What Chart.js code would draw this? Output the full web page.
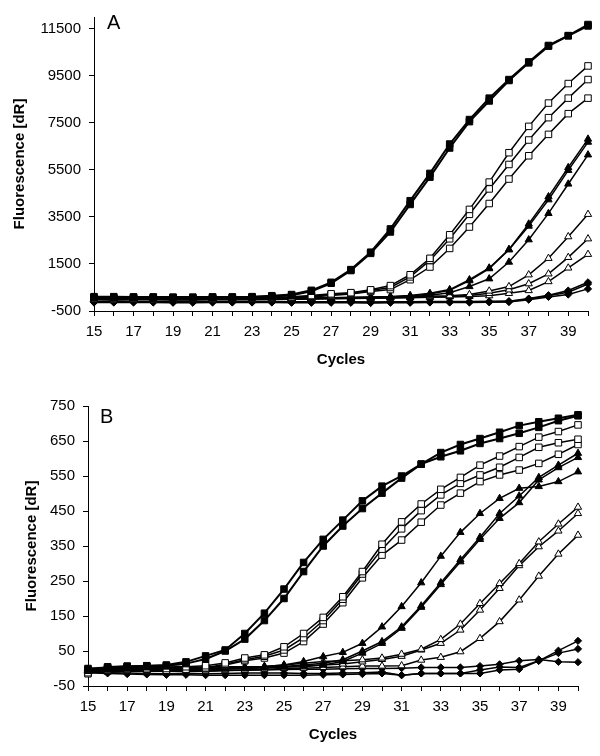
<!DOCTYPE html>
<html>
<head>
<meta charset="utf-8">
<script src="https://cdn.jsdelivr.net/npm/chart.js@4.4.1/dist/chart.umd.min.js"></script>
<style>
  body { margin: 0; background: #fff; }
  canvas { position: absolute; left: 0; }
  #chartA { top: 0; }
  #chartB { top: 378px; }
</style>
</head>
<body>
<canvas id="chartA" width="600" height="378"></canvas>
<canvas id="chartB" width="600" height="378"></canvas>
<script>
// cycles 15..40
const cycles = [15,16,17,18,19,20,21,22,23,24,25,26,27,28,29,30,31,32,33,34,35,36,37,38,39,40];
const xTickLabels = [15,17,19,21,23,25,27,29,31,33,35,37,39];
const yTicksA = [-500,1500,3500,5500,7500,9500,11500];
const yTicksB = [-50,50,150,250,350,450,550,650,750];

// panel A
const aSqF1 = [110,110,100,100,90,90,100,100,110,150,200,380,720,1260,2000,2990,4190,5350,6600,7640,8550,9340,10090,10790,11210,11680];
const aSqF2 = [80,80,80,70,70,70,80,80,90,120,170,340,680,1220,1950,2860,4030,5190,6430,7550,8430,9300,10050,10760,11200,11620];
const aSqO1 = [60,50,60,60,40,40,50,60,70,90,110,160,230,280,400,580,1040,1740,2740,3820,4980,6230,7350,8340,9170,9920];
const aSqO2 = [30,20,30,40,20,20,30,40,50,60,80,130,200,250,370,500,950,1650,2570,3610,4690,5730,6770,7720,8550,9340];
const aSqO3 = [0,-10,0,10,0,0,10,20,30,40,60,100,160,220,330,410,830,1370,2160,3070,4070,5110,6100,7010,7890,8550];
const aTriF1 = [20,20,20,20,10,10,20,20,30,30,40,50,60,80,100,120,160,250,410,830,1330,2120,3200,4360,5600,6810];
const aTriF2 = [10,10,10,10,0,0,10,10,20,20,30,40,50,60,80,100,140,220,380,790,1300,2100,3110,4230,5480,6680];
const aTriF3 = [0,0,0,0,-10,-10,0,0,10,10,20,30,40,50,60,80,110,170,280,540,870,1580,2530,3650,4900,6140];
const aTriO1 = [10,0,10,10,0,0,10,10,10,20,20,30,40,60,70,90,110,130,150,200,350,540,1040,1740,2660,3610];
const aTriO2 = [0,-10,0,0,-10,-10,0,0,0,10,10,20,30,40,50,60,80,100,120,160,250,400,660,1080,1780,2570];
const aTriO3 = [-20,-30,-20,-20,-30,-30,-20,-20,-20,-10,0,10,20,30,40,50,60,80,100,120,150,250,370,750,1330,1910];
const aDia1 = [-100,-100,-100,-100,-110,-110,-100,-100,-100,-100,-110,-110,-110,-110,-120,-110,-110,-100,-100,-100,-90,-80,30,170,370,720];
const aDia2 = [-120,-120,-120,-120,-130,-130,-120,-120,-120,-120,-130,-130,-130,-130,-140,-130,-130,-120,-120,-120,-110,-100,10,150,300,650];
const aDia3 = [-140,-140,-140,-140,-150,-150,-140,-140,-140,-140,-150,-150,-150,-150,-160,-150,-150,-140,-140,-140,-130,-120,-20,100,200,440];

// panel B
const bSqF1 = [0,3,6,8,10,19,36,53,100,158,227,303,369,424,479,521,550,584,617,640,657,675,694,705,715,725];
const bSqF2 = [-3,1,4,6,8,14,27,50,84,137,200,277,350,407,457,501,544,584,605,622,643,657,672,689,708,722];
const bSqO1 = [-5,5,7,7,8,5,8,16,30,39,62,100,146,205,277,355,419,470,512,546,581,607,634,661,677,696];
const bSqO2 = [-12,0,3,2,0,-2,2,12,25,35,53,88,137,198,270,341,399,451,496,529,553,575,603,632,645,655];
const bSqO3 = [-15,-3,0,-2,-5,-5,0,10,22,30,44,77,127,188,259,324,367,418,467,501,534,553,567,586,612,640];
const bTriF1 = [-2,0,2,3,4,3,4,5,5,6,10,20,34,46,72,119,177,245,321,389,443,486,515,520,534,562];
const bTriF2 = [-5,-3,-1,0,1,0,1,2,3,4,6,10,15,25,50,77,119,179,245,311,375,443,493,546,581,615];
const bTriF3 = [-8,-5,-3,-2,-1,-2,-1,0,1,2,4,5,10,20,44,72,115,175,240,305,369,429,474,539,574,603];
const bTriO1 = [-5,-3,-2,0,0,-2,0,2,4,6,10,15,20,22,25,30,41,55,83,127,186,243,300,362,413,461];
const bTriO2 = [-10,-8,-6,-5,-5,-6,-4,-2,0,2,5,8,10,13,19,26,35,53,72,110,167,229,294,348,393,443];
const bTriO3 = [-12,-10,-8,-8,-8,-9,-8,-6,-4,-2,0,1,3,5,7,7,8,24,32,48,86,134,196,264,327,381];
const bDia1 = [-5,-6,-7,-8,-8,-8,-8,-6,-5,-4,-3,-2,-2,-1,0,0,1,3,3,3,7,12,22,26,19,18];
const bDia2 = [-10,-12,-13,-14,-15,-15,-15,-14,-13,-13,-13,-14,-14,-13,-12,-10,-19,-14,-14,-14,-4,4,3,22,44,56];
const bDia3 = [-12,-14,-16,-17,-18,-18,-19,-19,-19,-19,-19,-19,-18,-17,-16,-14,-19,-14,-14,-14,-14,-4,-2,22,51,79];

const FONT = "'Liberation Sans', Arial, sans-serif";

// marker styles
const styles = {
  sqF:  { pointStyle: 'rect', pointRadius: 4.6, pointBackgroundColor: '#000', borderWidth: 2 },
  sqO:  { pointStyle: 'rect', pointRadius: 4.6, pointBackgroundColor: '#fff', borderWidth: 1.5 },
  triF: { pointStyle: 'triangle', pointRadius: 4.2, pointBackgroundColor: '#000', borderWidth: 1.5 },
  triO: { pointStyle: 'triangle', pointRadius: 4.2, pointBackgroundColor: '#fff', borderWidth: 1.5 },
  dia:  { pointStyle: 'rectRot', pointRadius: 3.6, pointBackgroundColor: '#000', borderWidth: 1.5 }
};

function series(values, kind) {
  return Object.assign({
    data: values.map((v, i) => ({ x: cycles[i], y: v })),
    borderColor: '#000',
    pointBorderColor: '#000',
    pointBorderWidth: 1,
    tension: 0,
    clip: false
  }, styles[kind]);
}

// draws the panel letter
const panelLetter = {
  id: 'panelLetter',
  afterDraw(chart, args, opts) {
    const ctx = chart.ctx;
    ctx.save();
    ctx.font = '20px ' + FONT;
    ctx.fillStyle = '#000';
    ctx.textBaseline = 'alphabetic';
    ctx.fillText(opts.text, chart.chartArea.left + opts.dx, opts.y);
    ctx.restore();
  }
};

function makeChart(id, sets, cfg) {
  return new Chart(document.getElementById(id), {
    type: 'line',
    data: { datasets: sets },
    options: {
      responsive: false,
      animation: false,
      layout: { padding: cfg.padding },
      plugins: {
        legend: { display: false },
        tooltip: { enabled: false },
        panelLetter: cfg.letter
      },
      scales: {
        x: {
          type: 'linear',
          min: 15,
          max: 40,
          afterBuildTicks: s => { s.ticks = cycles.map(v => ({ value: v })); },
          afterFit: s => { s.height = cfg.xHeight; },
          ticks: {
            autoSkip: false,
            maxRotation: 0,
            padding: 7,
            color: '#000',
            font: { family: FONT, size: 15 },
            callback: v => xTickLabels.includes(v) ? String(v) : ''
          },
          grid: { drawOnChartArea: false, tickLength: 5, color: '#000' },
          border: { color: '#000', width: 1 },
          title: {
            display: true,
            text: 'Cycles',
            color: '#000',
            font: { family: FONT, size: 15, weight: 'bold' },
            padding: { top: 0, bottom: cfg.xTitlePad }
          }
        },
        y: {
          min: cfg.yMin,
          max: cfg.yMax,
          afterBuildTicks: s => { s.ticks = cfg.yTicks.map(v => ({ value: v })); },
          afterFit: s => { s.width = cfg.yWidth; },
          ticks: {
            padding: 8,
            color: '#000',
            font: { family: FONT, size: 15 },
            callback: v => String(v)
          },
          grid: { drawOnChartArea: false, tickLength: 5, color: '#000' },
          border: { color: '#000', width: 1 },
          title: {
            display: true,
            text: 'Fluorescence [dR]',
            color: '#000',
            font: { family: FONT, size: 15, weight: 'bold' },
            padding: { top: cfg.yTitlePad, bottom: 0 }
          }
        }
      }
    },
    plugins: [panelLetter]
  });
}

const setsA = [
  series(aSqF1, 'sqF'), series(aSqF2, 'sqF'),
  series(aSqO1, 'sqO'), series(aSqO2, 'sqO'), series(aSqO3, 'sqO'),
  series(aTriF1, 'triF'), series(aTriF2, 'triF'), series(aTriF3, 'triF'),
  series(aTriO1, 'triO'), series(aTriO2, 'triO'), series(aTriO3, 'triO'),
  series(aDia1, 'dia'), series(aDia2, 'dia'), series(aDia3, 'dia')
];

const setsB = [
  series(bSqF1, 'sqF'), series(bSqF2, 'sqF'),
  series(bSqO1, 'sqO'), series(bSqO2, 'sqO'), series(bSqO3, 'sqO'),
  series(bTriF1, 'triF'), series(bTriF2, 'triF'), series(bTriF3, 'triF'),
  series(bTriO1, 'triO'), series(bTriO2, 'triO'), series(bTriO3, 'triO'),
  series(bDia1, 'dia'), series(bDia2, 'dia'), series(bDia3, 'dia')
];

makeChart('chartA', setsA, {
  padding: { top: 10, right: 12, bottom: 0, left: 0 },
  xHeight: 67, yWidth: 94, xTitlePad: 9, yTitlePad: 11,
  yMin: -500, yMax: 12000, yTicks: yTicksA,
  letter: { text: 'A', dx: 13, y: 29 }
});

makeChart('chartB', setsB, {
  padding: { top: 28, right: 22, bottom: 0, left: 0 },
  xHeight: 70, yWidth: 88, xTitlePad: 12, yTitlePad: 23,
  yMin: -50, yMax: 750, yTicks: yTicksB,
  letter: { text: 'B', dx: 12, y: 45 }
});
</script>
</body>
</html>
